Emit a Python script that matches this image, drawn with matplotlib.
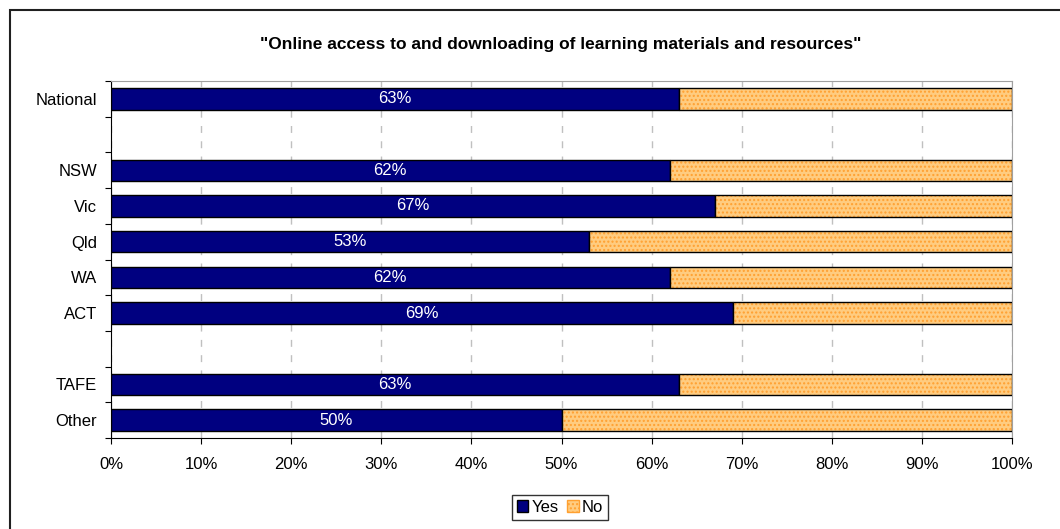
import matplotlib.pyplot as plt
import numpy as np
from matplotlib.patches import Rectangle

# categories top to bottom, None = empty slot
categories = ['National', None, 'NSW', 'Vic', 'Qld', 'WA', 'ACT', None, 'TAFE', 'Other']
yes = [63, None, 62, 67, 53, 62, 69, None, 63, 50]
no = [100 - v if v is not None else None for v in yes]
xticks = np.arange(0, 101, 10)

plt.rcParams['font.family'] = ['Liberation Sans', 'DejaVu Sans']

fig = plt.figure(figsize=(10.6, 5.29), dpi=100)
ax = fig.add_axes([111/1060, 1 - 438/529, (1012 - 111)/1060, (438 - 81)/529])

n = len(categories)
pos = np.arange(n)[::-1] + 0.5
idx = [i for i, c in enumerate(categories) if c is not None]
ypos = pos[idx]
yv = np.array([yes[i] for i in idx])
nv = np.array([no[i] for i in idx])
h = 0.6

ax.barh(ypos, yv, height=h, color='#000080', edgecolor='black', linewidth=1, zorder=3)
# checkered "No" fill
ax.barh(ypos, nv, left=yv, height=h, color='#FFCC80', edgecolor='#FFA030',
        hatch='....', linewidth=0, zorder=3)
ax.barh(ypos, nv, left=yv, height=h, fill=False, edgecolor='black', linewidth=1, zorder=4)

for y, v in zip(ypos, yv):
    ax.text(v / 2, y, '%d%%' % v, color='white', ha='center', va='center', fontsize=12, zorder=5)

ax.set_xlim(0, 100)
ax.set_ylim(0, n)
ax.set_xticks(xticks)
ax.set_xticklabels(['%d%%' % t for t in xticks], fontsize=12)
ax.set_yticks(np.arange(n + 1), minor=False)
ax.set_yticklabels([])
ax.set_yticks(ypos, minor=True)
ax.set_yticklabels([categories[i] for i in idx], minor=True, fontsize=12)
ax.tick_params(axis='y', which='minor', length=0, pad=10)
ax.tick_params(axis='y', which='major', length=4, direction='out')
ax.tick_params(axis='x', length=4, direction='out', pad=10)
ax.grid(axis='x', color='#C0C0C0', linestyle=(0, (5, 6)), linewidth=1, zorder=0)

ax.spines['top'].set_color('#A0A0A0')
ax.spines['right'].set_color('#A0A0A0')

fig.text(561/1060, 1 - 45/529,
         '"Online access to and downloading of learning materials and resources"',
         ha='center', va='center', fontsize=12.5, fontweight='bold')

leg_handles = [Rectangle((0, 0), 1, 1, facecolor='#000080', edgecolor='black'),
               Rectangle((0, 0), 1, 1, facecolor='#FFCC80', edgecolor='#FFA030', hatch='....')]
leg = fig.legend(leg_handles, ['Yes', 'No'], loc='center', bbox_to_anchor=(560/1060, 1 - 507/529),
                 ncol=2, fontsize=12, frameon=True, fancybox=False, edgecolor='black',
                 handlelength=0.7, handleheight=0.7, handletextpad=0.2, columnspacing=0.5,
                 borderpad=0.3)
leg.get_frame().set_linewidth(1)

# outer chart frame
fig.patches.append(Rectangle((10/1060, -0.5), 1.2, 1 - 10/529 + 0.5, transform=fig.transFigure,
                             fill=False, edgecolor='#202020', linewidth=1.5))

fig.savefig('out.png', dpi=100)
